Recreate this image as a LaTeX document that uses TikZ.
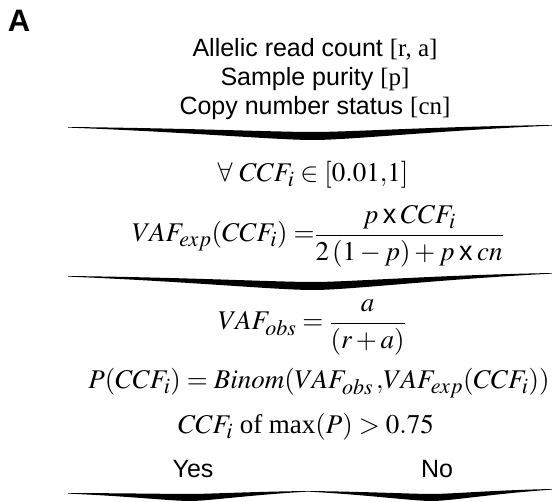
\documentclass[tikz,border=0pt]{standalone}
\usepackage{mathptmx}
\usepackage{fontspec}
\setmainfont{Liberation Serif}
\setsansfont{Liberation Sans}
\DeclareMathSizes{27}{27}{22}{17}
\newcommand\chev[7]{%
 \fill (#1,#2) .. controls ({#1+(#3-#1)*0.5},{#2+(#4-#7-#2)*0.25}) and ({#3-(#3-#1)*0.15},{#4-#7}) .. (#3,{#4-#7})
   .. controls ({#3+(#5-#3)*0.15},{#4-#7}) and ({#3+(#5-#3)*0.5},{#6+(#4-#7-#6)*0.25}) .. (#5,#6)
   -- (#5,{#6+0.6})
   .. controls ({#3+(#5-#3)*0.5},{#6+(#4-#6)*0.4}) and ({#3+(#5-#3)*0.15},{#4}) .. (#3,#4)
   .. controls ({#3-(#3-#1)*0.15},{#4}) and ({#1+(#3-#1)*0.5},{#2+(#4-#2)*0.4}) .. (#1,{#2+0.6}) -- cycle;}
\newcommand\tx{\mbox{\sffamily\,x\,}}
\tikzset{
  lbl/.style={anchor=base, inner sep=0pt, font=\fontsize{25}{30}\selectfont},
  eqn/.style={anchor=base, inner sep=0pt, font=\fontsize{27}{32}\selectfont},
  panel/.style={anchor=center, inner sep=0pt, font=\fontsize{31}{31}\selectfont\sffamily\bfseries}
}
\begin{document}
\begin{tikzpicture}[x=1pt,y=-1pt]
\useasboundingbox (0,0) rectangle (552,502);
\node[panel] (A) at (19,21) {A};
\node[lbl] (in1) at (315,57) {\sffamily Allelic read count \rmfamily[r, a]};
\node[lbl] (in2) at (315,86) {\sffamily Sample purity \rmfamily[p]};
\node[lbl] (in3) at (315,115) {\sffamily Copy number status \rmfamily[cn]};
\chev{68}{127}{313}{140}{552}{125}{8}
\node[eqn] (forall) at (313,182) {$\forall\ CCF_i \in [0.01{,}1]$};
\node[eqn] (vafexp) at (318,242) {$\displaystyle VAF_{exp}(CCF_i) =\!\!\frac{p\tx CCF_i}{2\,(1-p) + p\tx cn}$};
\chev{68}{276}{313}{290}{552}{273}{8}
\node[eqn] (vafobs) at (312,330) {$\displaystyle VAF_{obs} = \frac{a}{(r+a)}$};
\node[eqn] (prob) at (319,389) {$P(CCF_i) = Binom(VAF_{obs}\,,\!VAF_{exp}(CCF_i))$};
\node[eqn] (max) at (306,434) {$CCF_i$ of max$(P) > 0.75$};
\node[lbl] (yes) at (193,478) {\sffamily Yes};
\node[lbl] (no) at (437,478) {\sffamily No};
\chev{68}{493}{190}{501}{308}{491}{7}
\chev{308}{491}{432}{501}{552}{489}{7}
\end{tikzpicture}
\end{document}
